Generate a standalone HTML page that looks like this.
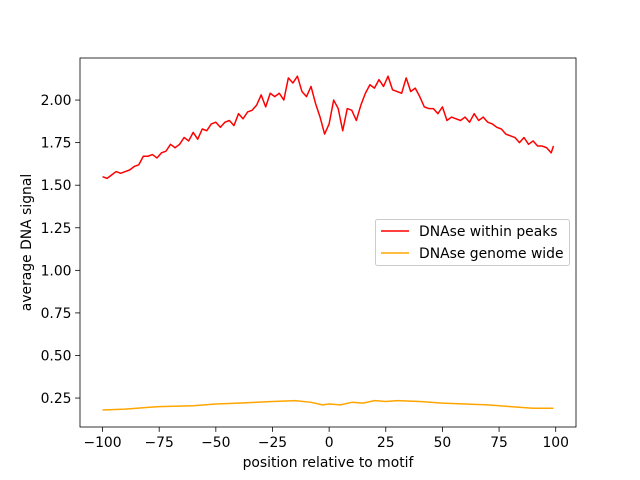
<!DOCTYPE html>
<html><head><meta charset="utf-8"><style>
body{margin:0;background:#fff}
svg{display:block;font-family:"DejaVu Sans","Liberation Sans",sans-serif}
</style></head><body>
<svg id="chart" width="640" height="480">
<rect x="0" y="0" width="640" height="480" fill="#fff"/>
<g id="plot"></g>
</svg>
<script>
const xsPeaks=[-100,-98,-96,-94,-92,-90,-88,-86,-84,-82,-80,-78,-76,-74,-72,-70,-68,-66,-64,-62,-60,-58,-56,-54,-52,-50,-48,-46,-44,-42,-40,-38,-36,-34,-32,-30,-28,-26,-24,-22,-20,-18,-16,-14,-12,-10,-8,-6,-4,-2,0,2,4,6,8,10,12,14,16,18,20,22,24,26,28,30,32,34,36,38,40,42,44,46,48,50,52,54,56,58,60,62,64,66,68,70,72,74,76,78,80,82,84,86,88,90,92,94,96,98,99];
const peaks=[1.55,1.54,1.56,1.58,1.57,1.58,1.59,1.61,1.62,1.67,1.67,1.68,1.66,1.69,1.70,1.74,1.72,1.74,1.78,1.76,1.81,1.77,1.83,1.82,1.86,1.87,1.84,1.87,1.88,1.85,1.92,1.89,1.93,1.94,1.97,2.03,1.96,2.04,2.02,2.04,2.00,2.13,2.10,2.14,2.05,2.02,2.08,1.98,1.90,1.80,1.86,2.00,1.95,1.82,1.95,1.94,1.88,1.97,2.04,2.09,2.07,2.12,2.08,2.14,2.06,2.05,2.04,2.13,2.05,2.07,2.02,1.96,1.95,1.95,1.92,1.96,1.88,1.90,1.89,1.88,1.90,1.87,1.92,1.88,1.90,1.87,1.86,1.84,1.83,1.80,1.79,1.78,1.75,1.78,1.74,1.76,1.73,1.73,1.72,1.69,1.73];
const xsGenome=[-100,-90,-80,-75,-60,-50,-40,-25,-15,-8,-3,0,5,10,15,20,25,30,40,50,60,70,80,90,99];
const genome=[0.18,0.185,0.195,0.20,0.205,0.215,0.22,0.23,0.235,0.225,0.21,0.215,0.21,0.225,0.22,0.235,0.23,0.235,0.23,0.22,0.215,0.21,0.20,0.19,0.19];
const xTicks=[-100,-75,-50,-25,0,25,50,75,100];
const yTicks=[0.25,0.50,0.75,1.00,1.25,1.50,1.75,2.00];

const L=80,R=576,T=58,B=427;
const xmin=-109.95,xmax=108.95,ymin=0.08,ymax=2.247;
const sx=v=>L+(v-xmin)/(xmax-xmin)*(R-L);
const sy=v=>B-(v-ymin)/(ymax-ymin)*(B-T);
const g=document.getElementById('plot');
const NS='http://www.w3.org/2000/svg';
function mk(tag,attrs,parent){const e=document.createElementNS(NS,tag);for(const k in attrs)e.setAttribute(k,attrs[k]);(parent||g).appendChild(e);return e;}

function line(xs,ys,color,name){
  const p=mk('polyline',{points:xs.map((x,i)=>sx(x)+','+sy(ys[i])).join(' '),fill:'none',stroke:color,'stroke-width':1.5,'stroke-linejoin':'round'});
  
  
}
line(xsGenome,genome,'#ffa500','series-genome-wide');
line(xsPeaks,peaks,'#ff0000','series-within-peaks');

const frame=mk('rect',{x:L,y:T,width:R-L,height:B-T,fill:'none',stroke:'#000','stroke-width':0.8});



const FS=13.9;
xTicks.forEach(t=>{
  const x=sx(t);
  mk('line',{x1:x,x2:x,y1:B,y2:B+4.9,stroke:'#000','stroke-width':0.8});
  const tx=mk('text',{x:x,y:B+20,'text-anchor':'middle','font-size':FS});
  tx.textContent=(t<0?'\u2212'+(-t):t);
  
  
});
yTicks.forEach(t=>{
  const y=sy(t);
  mk('line',{x1:L-4.9,x2:L,y1:y,y2:y,stroke:'#000','stroke-width':0.8});
  const tx=mk('text',{x:L-8.5,y:y+5,'text-anchor':'end','font-size':FS});
  tx.textContent=t.toFixed(2);
  
  
});
const xt=mk('text',{x:(L+R)/2,y:467,'text-anchor':'middle','font-size':FS});
xt.textContent='position relative to motif';


const yt=mk('text',{x:0,y:0,'text-anchor':'middle','font-size':FS,transform:'translate(31,'+((T+B)/2)+') rotate(-90)'});
yt.textContent='average DNA signal';



const lg=mk('g',{});


mk('rect',{x:375.5,y:219.5,width:194,height:46,rx:2,fill:'#fff',stroke:'#ccc','stroke-width':1,'fill-opacity':0.8},lg);
[['DNAse within peaks','#ff0000',231],['DNAse genome wide','#ffa500',253]].forEach(([lab,c,y])=>{
  const e=mk('g',{},lg);
  
  
  mk('line',{x1:381,x2:409,y1:y,y2:y,stroke:c,'stroke-width':1.5},e);
  const t=mk('text',{x:419,y:y+5,'font-size':FS},e);
  t.textContent=lab;
});
</script>
</body></html>
